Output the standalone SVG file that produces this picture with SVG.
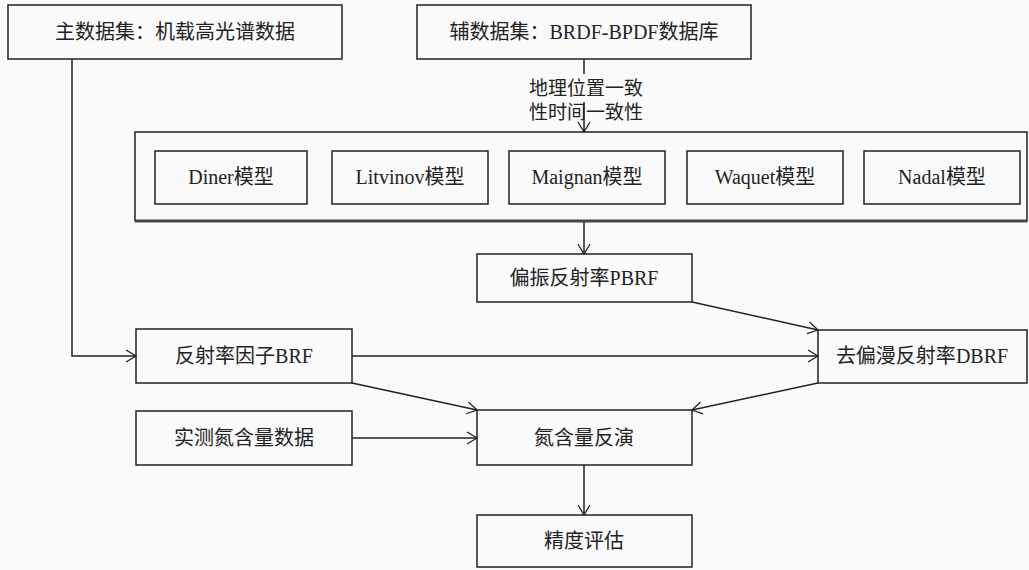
<svg xmlns="http://www.w3.org/2000/svg" width="1029" height="570" viewBox="0 0 1029 570">
<defs>
<marker id="arr" markerWidth="14" markerHeight="14" refX="11" refY="7" orient="auto" markerUnits="userSpaceOnUse">
<path d="M1,1 L11,7 L1,13" fill="none" stroke="#222" stroke-width="1.3"/>
</marker>
<style>
.box{fill:none;stroke:#222;stroke-width:1.5}
.ln{fill:none;stroke:#222;stroke-width:1.5}
.t{font-family:"Liberation Serif","Noto Sans CJK SC",serif;font-size:20px;fill:#222;text-anchor:middle}
.l{font-family:"Liberation Serif",serif}
</style>
</defs>
<rect x="0" y="0" width="1029" height="570" fill="#fafafa"/>
<g id="n-main"><rect class="box" x="8" y="5" width="334" height="54"/><text class="t" x="175" y="39">主数据集：机载高光谱数据</text></g>
<g id="n-aux"><rect class="box" x="417" y="5" width="334" height="54"/><text class="t" x="584" y="39">辅数据集：<tspan class="l">BRDF-BPDF</tspan>数据库</text></g>
<g id="n-models">
<rect class="box" x="135" y="132" width="892" height="89"/>
<line x1="135" y1="221" x2="1027" y2="221" stroke="#444" stroke-width="3"/>
</g>
<g id="n-diner"><rect class="box" x="155" y="151" width="152" height="53"/><text class="t" x="231" y="184"><tspan class="l">Diner</tspan>模型</text></g>
<g id="n-litvinov"><rect class="box" x="332" y="151" width="156" height="53"/><text class="t" x="410" y="184"><tspan class="l">Litvinov</tspan>模型</text></g>
<g id="n-maignan"><rect class="box" x="509" y="151" width="156" height="53"/><text class="t" x="587" y="184"><tspan class="l">Maignan</tspan>模型</text></g>
<g id="n-waquet"><rect class="box" x="687" y="151" width="156" height="53"/><text class="t" x="765" y="184"><tspan class="l">Waquet</tspan>模型</text></g>
<g id="n-nadal"><rect class="box" x="864" y="151" width="156" height="53"/><text class="t" x="942" y="184"><tspan class="l">Nadal</tspan>模型</text></g>
<g id="n-pbrf"><rect class="box" x="477" y="254" width="215" height="48"/><text class="t" x="584" y="285">偏振反射率<tspan class="l">PBRF</tspan></text></g>
<g id="n-brf"><rect class="box" x="136" y="329" width="216" height="54"/><text class="t" x="244" y="363">反射率因子<tspan class="l">BRF</tspan></text></g>
<g id="n-dbrf"><rect class="box" x="818" y="330" width="209" height="53"/><text class="t" x="922" y="363">去偏漫反射率<tspan class="l">DBRF</tspan></text></g>
<g id="n-measured"><rect class="box" x="136" y="411" width="216" height="54"/><text class="t" x="244" y="445">实测氮含量数据</text></g>
<g id="n-inversion"><rect class="box" x="477" y="410" width="215" height="55"/><text class="t" x="584" y="445">氮含量反演</text></g>
<g id="n-accuracy"><rect class="box" x="477" y="515" width="215" height="52"/><text class="t" x="584" y="548">精度评估</text></g>
<g id="connectors">
<polyline class="ln" points="72,59 72,356 136,356" marker-end="url(#arr)"/>
<line class="ln" x1="584" y1="59" x2="584" y2="74"/>
<line class="ln" x1="584" y1="102" x2="584" y2="132" marker-end="url(#arr)"/>
<text class="t" x="586" y="95" style="font-size:19px">地理位置一致</text>
<text class="t" x="586" y="119" style="font-size:19px">性时间一致性</text>
<line class="ln" x1="584" y1="222" x2="584" y2="254" marker-end="url(#arr)"/>
<line class="ln" x1="692" y1="302" x2="818" y2="330" marker-end="url(#arr)"/>
<line class="ln" x1="352" y1="356" x2="818" y2="356" marker-end="url(#arr)"/>
<line class="ln" x1="352" y1="383" x2="477" y2="410" marker-end="url(#arr)"/>
<line class="ln" x1="818" y1="383" x2="692" y2="410" marker-end="url(#arr)"/>
<line class="ln" x1="352" y1="438" x2="477" y2="438" marker-end="url(#arr)"/>
<line class="ln" x1="584" y1="465" x2="584" y2="515" marker-end="url(#arr)"/>
</g>
</svg>
